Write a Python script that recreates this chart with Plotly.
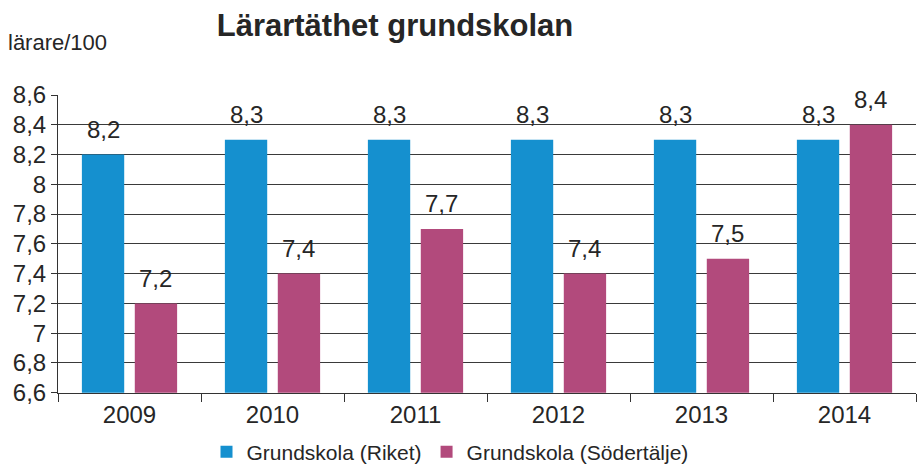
import plotly.graph_objects as go

years = ["2009", "2010", "2011", "2012", "2013", "2014"]
riket = [8.2, 8.3, 8.3, 8.3, 8.3, 8.3]
sodertalje = [7.2, 7.4, 7.7, 7.4, 7.5, 8.4]
series_names = ["Grundskola (Riket)", "Grundskola (Södertälje)"]
y_ticks = [6.6, 6.8, 7.0, 7.2, 7.4, 7.6, 7.8, 8.0, 8.2, 8.4, 8.6]

def sv(v):
    s = ("%.1f" % v).rstrip("0").rstrip(".")
    return s.replace(".", ",")

BLUE = "#1590cf"
PINK = "#b24a7c"
FONT = "Liberation Sans, Arial, sans-serif"
TXT = "#262626"

W, H = 920, 468
ML, MR, MT, MB = 58, 4, 95, 73
BARGAP, GROUPGAP = 0.26, 0.2
PH = H - MT - MB

fig = go.Figure()
fig.add_trace(go.Bar(x=years, y=riket, name=series_names[0], marker_color=BLUE,
                     marker_line_width=0))
fig.add_trace(go.Bar(x=years, y=sodertalje, name=series_names[1], marker_color=PINK,
                     marker_line_width=0))

# data labels as annotations shifted to each bar (x given as category index)
pw = W - ML - MR
cat = pw / len(years)
slot = cat * (1 - BARGAP) / 2
for vals, sgn in ((riket, -1), (sodertalje, 1)):
    for i, v in enumerate(vals):
        fig.add_annotation(x=i, y=v, text=sv(v), showarrow=False,
                           xshift=sgn * slot / 2, yshift=25, yanchor="middle",
                           font=dict(family=FONT, size=24, color=TXT))

fig.add_annotation(xref="paper", yref="paper", x=0, xanchor="left",
                   xshift=-ML + 6, y=(H - MB - 42) / PH, yanchor="middle",
                   text="lärare/100", showarrow=False,
                   font=dict(family=FONT, size=22, color=TXT))

fig.update_layout(
    width=W, height=H,
    margin=dict(l=ML, r=MR, t=MT, b=MB),
    paper_bgcolor="white", plot_bgcolor="white",
    barmode="group", bargap=BARGAP, bargroupgap=GROUPGAP,
    separators=",.",
    title=dict(text="<b>Lärartäthet grundskolan</b>", x=395 / W, xref="container",
               xanchor="center", y=1 - 25 / H, yref="container", yanchor="middle",
               font=dict(family=FONT, size=31, color=TXT)),
    showlegend=True,
    legend=dict(orientation="h", xref="container", yref="container",
                x=450 / W, xanchor="center", y=1 - 452 / H, yanchor="middle",
                font=dict(family=FONT, size=21, color=TXT),
                itemwidth=30, tracegroupgap=0),
    xaxis=dict(type="category", range=[-0.5, 5.5], showgrid=False, showline=True,
               linecolor="#333", linewidth=1, ticks="outside", tickson="boundaries",
               ticklen=8, tickcolor="#333", tickangle=0,
               tickfont=dict(family=FONT, size=24, color=TXT)),
    yaxis=dict(range=[6.6, 8.6], tickvals=y_ticks, ticktext=[sv(v) for v in y_ticks],
               showgrid=True, gridcolor="#3a3a3a", gridwidth=1, showline=True,
               linecolor="#333", linewidth=1, ticks="outside", ticklen=6,
               tickcolor="#333", zeroline=False,
               tickfont=dict(family=FONT, size=24, color=TXT)),
)

fig.write_html("out.html", config={"displayModeBar": False},
               post_script="document.body.style.margin='0';document.body.style.overflow='hidden';")
